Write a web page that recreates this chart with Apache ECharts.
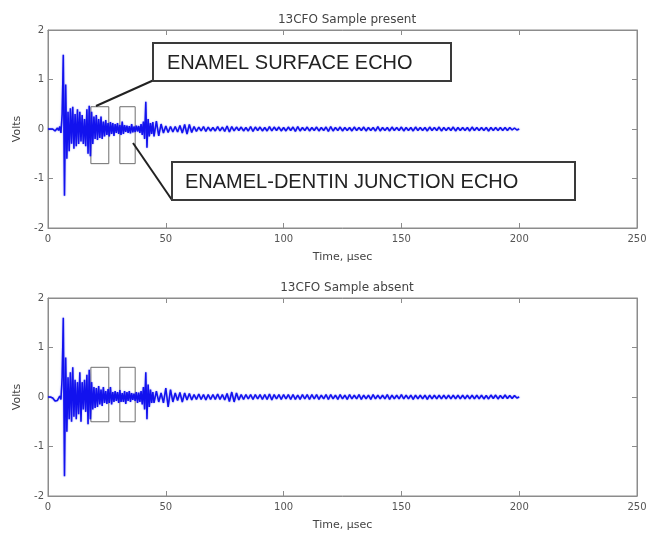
<!DOCTYPE html>
<html>
<head>
<meta charset="utf-8">
<script src="https://cdn.jsdelivr.net/npm/echarts@6/dist/echarts.min.js"></script>
<style>html,body{margin:0;padding:0;background:#fff;}#c{width:657px;height:535px;}</style>
</head>
<body>
<div id="c"></div>
<script>
// ---- data ----
const timeUs = [
  0,0.5,1,1.5,2,2.5,3,3.5,4,4.5,
  5,5.5,6,6.5,7,7.5,8,8.5,9,9.5,
  10,10.5,11,11.5,12,12.5,13,13.5,14,14.5,
  15,15.5,16,16.5,17,17.5,18,18.5,19,19.5,
  20,20.5,21,21.5,22,22.5,23,23.5,24,24.5,
  25,25.5,26,26.5,27,27.5,28,28.5,29,29.5,
  30,30.5,31,31.5,32,32.5,33,33.5,34,34.5,
  35,35.5,36,36.5,37,37.5,38,38.5,39,39.5,
  40,40.5,41,41.5,42,42.5,43,43.5,44,44.5,
  45,
  46,47,48,49,50,51,52,53,54,55,56,57,58,59,60,61,62,
  63,64,65,66,67,68,69,70,71,72,
  73,74,75,76,77,78,79,80,81,82,
  83,84,85,86,87,88,89,90,91,92,
  93,94,95,96,97,98,99,100,101,102,
  103,104,105,106,107,108,109,110,111,112,
  113,114,115,116,117,118,119,120,121,122,
  123,124,125,126,127,128,129,130,131,132,
  133,134,135,136,137,138,139,140,141,142,
  143,144,145,146,147,148,149,150,151,152,
  153,154,155,156,157,158,159,160,161,162,
  163,164,165,166,167,168,169,170,171,172,
  173,174,175,176,177,178,179,180,181,182,
  183,184,185,186,187,188,189,190,191,192,
  193,194,195,196,197,198,199,200
];
const voltsPresent = [
  0,0,0,0.01,0,-0.02,-0.04,-0.02,0.02,-0.03,
  0.05,-0.08,0.3,1.5,-1.35,0.9,-0.6,0.35,-0.45,0.42,
  -0.3,0.45,-0.4,0.3,-0.35,0.4,-0.3,0.35,-0.25,0.28,
  -0.3,0.2,-0.35,0.4,-0.5,0.47,-0.55,0.35,-0.3,0.25,
  -0.2,0.28,-0.22,0.2,-0.18,0.25,-0.2,0.15,-0.15,0.18,
  -0.12,0.12,-0.15,0.14,-0.1,0.12,-0.14,0.1,-0.08,0.12,
  -0.1,0.08,-0.12,0.15,-0.1,0.08,-0.06,0.07,-0.08,0.06,
  -0.09,0.1,-0.07,0.05,-0.06,0.07,-0.05,0.06,-0.08,0.1,
  -0.12,0.15,-0.2,0.55,-0.38,0.2,-0.15,0.12,-0.1,0.14,
  -0.15,
  0.16,-0.14,0.1,-0.08,0.06,-0.07,0.05,-0.06,0.05,-0.06,0.07,-0.08,0.09,-0.1,0.09,-0.07,0.05,
  -0.05,0.04,-0.04,0.05,-0.05,0.04,-0.04,0.03,-0.04,0.05,
  -0.04,0.04,-0.05,0.06,-0.06,0.05,-0.04,0.04,-0.03,0.04,
  -0.04,0.03,-0.04,0.05,-0.05,0.04,-0.03,0.04,-0.04,0.03,
  -0.04,0.05,-0.04,0.04,-0.03,0.04,-0.04,0.03,-0.04,0.04,
  -0.03,0.04,-0.05,0.05,-0.04,0.03,-0.03,0.04,-0.04,0.03,
  -0.03,0.04,-0.04,0.03,-0.03,0.04,-0.05,0.05,-0.04,0.03,
  -0.03,0.04,-0.04,0.03,-0.03,0.03,-0.04,0.04,-0.03,0.03,
  -0.03,0.04,-0.04,0.03,-0.03,0.03,-0.04,0.05,-0.04,0.03,
  -0.03,0.03,-0.04,0.04,-0.03,0.03,-0.03,0.04,-0.04,0.03,
  -0.03,0.03,-0.04,0.04,-0.03,0.03,-0.03,0.03,-0.04,0.04,
  -0.03,0.03,-0.03,0.04,-0.04,0.03,-0.03,0.03,-0.03,0.04,
  -0.04,0.03,-0.03,0.03,-0.03,0.03,-0.04,0.04,-0.03,0.03,
  -0.03,0.03,-0.03,0.03,-0.04,0.03,-0.03,0.03,-0.03,0.03,
  -0.03,0.03,-0.03,0.03,-0.02,0.02,-0.02,0
];
const voltsAbsent = [
  0,0,0,0,-0.02,-0.05,-0.08,-0.1,-0.07,-0.03,
  0.02,-0.05,0.4,1.6,-1.6,0.8,-0.7,0.4,-0.45,0.5,
  -0.5,0.6,-0.4,0.35,-0.45,0.3,-0.35,0.5,-0.5,0.3,
  -0.25,0.35,-0.3,0.45,-0.55,0.55,-0.45,0.3,-0.25,0.2,
  -0.22,0.18,-0.2,0.22,-0.15,0.15,-0.18,0.2,-0.12,0.12,
  -0.14,0.16,-0.12,0.2,-0.15,0.1,-0.1,0.12,-0.08,0.1,
  -0.12,0.14,-0.1,0.08,-0.1,0.12,-0.14,0.1,-0.08,0.12,
  -0.1,0.08,-0.06,0.07,-0.08,0.1,-0.12,0.09,-0.1,0.12,
  -0.15,0.2,-0.25,0.5,-0.45,0.25,-0.2,0.15,-0.12,0.1,
  -0.12,
  0.12,-0.1,0.08,-0.12,0.18,-0.2,0.15,-0.1,0.08,-0.07,0.09,-0.1,0.08,-0.06,0.07,-0.06,0.05,
  -0.05,0.06,-0.05,0.05,-0.06,0.05,-0.05,0.05,-0.05,0.06,
  -0.05,0.05,-0.06,0.07,-0.09,0.1,-0.1,0.08,-0.06,0.05,
  -0.05,0.05,-0.04,0.05,-0.05,0.05,-0.04,0.05,-0.05,0.05,
  -0.05,0.06,-0.06,0.05,-0.04,0.05,-0.05,0.05,-0.04,0.05,
  -0.05,0.05,-0.05,0.04,-0.05,0.05,-0.04,0.05,-0.05,0.05,
  -0.04,0.05,-0.05,0.04,-0.04,0.05,-0.05,0.05,-0.04,0.04,
  -0.05,0.05,-0.04,0.04,-0.05,0.05,-0.04,0.04,-0.04,0.05,
  -0.05,0.04,-0.04,0.04,-0.05,0.05,-0.04,0.04,-0.04,0.04,
  -0.04,0.05,-0.05,0.04,-0.04,0.04,-0.04,0.05,-0.04,0.04,
  -0.04,0.04,-0.05,0.04,-0.04,0.04,-0.04,0.04,-0.05,0.04,
  -0.04,0.04,-0.04,0.04,-0.04,0.04,-0.04,0.04,-0.04,0.04,
  -0.04,0.04,-0.04,0.04,-0.04,0.04,-0.04,0.04,-0.04,0.04,
  -0.04,0.04,-0.04,0.03,-0.04,0.04,-0.03,0.04,-0.04,0.03,
  -0.03,0.04,-0.03,0.03,-0.03,0.03,-0.02,0
];
const titles = ['13CFO Sample present', '13CFO Sample absent'];
const xName = 'Time, \u03bcsec';
const yName = 'Volts';
const xRange = [0, 250, 50];
const yRange = [-2, 2, 1];
// echo windows [t0, v0, t1, v1]
const windowsPresent = [[18.2, 0.45, 25.8, -0.7], [30.5, 0.45, 37, -0.7]];
const windowsAbsent = [[18.2, 0.6, 25.8, -0.5], [30.5, 0.6, 37, -0.5]];
const calloutTexts = ['ENAMEL SURFACE ECHO', 'ENAMEL-DENTIN JUNCTION ECHO'];

// ---- chart ----
const chart = echarts.init(document.getElementById('c'), null, {renderer: 'canvas'});
const n = Math.min(timeUs.length, voltsPresent.length, voltsAbsent.length);
const pts = (vals) => timeUs.slice(0, n).map((t, i) => [t, vals[i]]);
const FONT = 'DejaVu Sans';
const AXC = '#8c8c8c';

const grids = [
  {left: 48, top: 30, width: 589, height: 198, show: true, borderColor: AXC, borderWidth: 1},
  {left: 48, top: 298, width: 589, height: 198, show: true, borderColor: AXC, borderWidth: 1}
];
const xAxes = [], yAxes = [];
const tick = {show: true, inside: true, length: 5, lineStyle: {color: AXC}};
const aline = {show: true, onZero: false, lineStyle: {color: AXC}};
[0, 1].forEach(g => {
  xAxes.push({
    type: 'value', gridIndex: g, position: 'bottom', min: xRange[0], max: xRange[1], interval: xRange[2],
    axisLine: aline, splitLine: {show: false}, axisTick: tick,
    axisLabel: {color: '#555', fontFamily: FONT, fontSize: 10, margin: 6},
    name: xName, nameLocation: 'middle', nameGap: 24,
    nameTextStyle: {color: '#444', fontFamily: FONT, fontSize: 11}
  });
  xAxes.push({
    type: 'value', gridIndex: g, position: 'top', min: xRange[0], max: xRange[1], interval: xRange[2],
    axisLine: aline, splitLine: {show: false}, axisTick: tick, axisLabel: {show: false}
  });
  yAxes.push({
    type: 'value', gridIndex: g, position: 'left', min: yRange[0], max: yRange[1], interval: yRange[2],
    axisLine: aline, splitLine: {show: false}, axisTick: tick,
    axisLabel: {color: '#555', fontFamily: FONT, fontSize: 10, margin: 4},
    name: yName, nameLocation: 'middle', nameGap: 19, nameRotate: 90,
    nameTextStyle: {color: '#444', fontFamily: FONT, fontSize: 11}
  });
  yAxes.push({
    type: 'value', gridIndex: g, position: 'right', min: yRange[0], max: yRange[1], interval: yRange[2],
    axisLine: aline, splitLine: {show: false}, axisTick: tick, axisLabel: {show: false}
  });
});

const windowArea = (w) => ({
  silent: true,
  itemStyle: {color: 'rgba(0,0,0,0)', borderColor: '#6e6e6e', borderWidth: 1},
  data: w.map(r => [{coord: [r[0], r[1]]}, {coord: [r[2], r[3]]}])
});

const sigStyle = {color: '#1212ee', width: 1.5, shadowBlur: 1.5, shadowColor: 'rgba(20,20,240,0.6)'};
const series = [
  {type: 'line', xAxisIndex: 0, yAxisIndex: 0, data: pts(voltsPresent), showSymbol: false,
   lineStyle: sigStyle, z: 3, markArea: windowArea(windowsPresent)},
  {type: 'line', xAxisIndex: 2, yAxisIndex: 2, data: pts(voltsAbsent), showSymbol: false,
   lineStyle: sigStyle, z: 3, markArea: windowArea(windowsAbsent)}
];

const box = (x, y, w, h) => ({type: 'rect', shape: {x, y, width: w, height: h},
  style: {fill: '#fff', stroke: '#3a3a3a', lineWidth: 2}, z: 10});
const txt = (x, y, t) => ({type: 'text', x, y, style: {text: t, fill: '#222',
  font: '20px "Liberation Sans", Arial, sans-serif', textVerticalAlign: 'middle', verticalAlign: 'middle'}, z: 11});
const line = (x1, y1, x2, y2) => ({type: 'line', shape: {x1, y1, x2, y2},
  style: {stroke: '#222', lineWidth: 2}, z: 10});

chart.setOption({
  animation: false,
  backgroundColor: '#fff',
  title: [
    {text: titles[0], left: 342, top: 9, textAlign: 'center',
     textStyle: {fontFamily: FONT, fontSize: 12, fontWeight: 'normal', color: '#444'}},
    {text: titles[1], left: 342, top: 277, textAlign: 'center',
     textStyle: {fontFamily: FONT, fontSize: 12, fontWeight: 'normal', color: '#444'}}
  ],
  grid: grids,
  xAxis: xAxes,
  yAxis: yAxes,
  series: series,
  graphic: [
    line(154, 80, 96, 106),
    line(133, 143, 172, 200),
    box(153, 43, 298, 38),
    box(172, 162, 403, 38),
    txt(167, 63, calloutTexts[0]),
    txt(185, 182, calloutTexts[1])
  ]
});
</script>
</body>
</html>
